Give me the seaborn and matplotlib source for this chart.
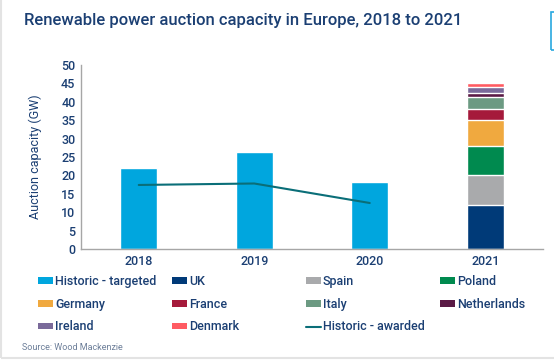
import matplotlib
matplotlib.use("Agg")
import matplotlib.pyplot as plt
from matplotlib.patches import Patch, Rectangle
from matplotlib.lines import Line2D
import seaborn as sns
import pandas as pd
import numpy as np

# data
years = ["2018", "2019", "2020", "2021"]
historic_targeted = [22.0, 26.4, 18.2]
historic_awarded = [17.4, 17.8, 12.5]
countries = ["UK", "Spain", "Poland", "Germany", "France", "Italy",
             "Netherlands", "Ireland", "Denmark"]
capacity_2021 = [12.0, 8.0, 8.0, 7.0, 3.0, 3.2, 1.3, 1.4, 1.3]

navy = "#1b3f73"
target_col = "#00a6de"
line_col = "#0a6e78"
country_cols = ["#003a78", "#a9aaac", "#008a4f", "#f0a93f", "#a51a3b",
                "#6c9a82", "#5a1a45", "#7a6a9a", "#ff5b62"]

sns.set_style("white")
plt.rcParams["font.family"] = ["Roboto", "DejaVu Sans"]

fig = plt.figure(figsize=(5.54, 3.62), dpi=100)
ax = fig.add_axes([81 / 554, 1 - 249 / 362, (543 - 81) / 554, (249 - 65) / 362])

hist = pd.DataFrame({"year": years[:3], "value": historic_targeted})
sns.barplot(data=hist, x="year", y="value", order=years, color=target_col,
            saturation=1, width=0.32, ax=ax)

# stacked 2021 bar: draw cumulative totals from the top down
cum = np.cumsum(capacity_2021)
for total, col in reversed(list(zip(cum, country_cols))):
    sns.barplot(x=["2021"], y=[total], order=years, color=col,
                saturation=1, width=0.32, ax=ax)

sns.lineplot(x=[0, 1, 2], y=historic_awarded, color=line_col, lw=1.5, ax=ax)

ax.set_xlim(-0.5, 3.5)
ax.set_ylim(0, 50)
ax.set_yticks(range(0, 51, 5))
ax.set_xlabel("")
ax.set_ylabel("Auction capacity (GW)", color=navy, fontsize=9, labelpad=14)
ax.tick_params(axis="both", length=0, labelsize=9, labelcolor=navy, pad=4)
for lab in ax.get_xticklabels() + ax.get_yticklabels():
    lab.set_fontweight("medium")
for s in ["top", "right"]:
    ax.spines[s].set_visible(False)
for s in ["left", "bottom"]:
    ax.spines[s].set_color("#a6a6a6")
    ax.spines[s].set_linewidth(1)

# legend, laid out in four columns
def patch(c):
    return Patch(facecolor=c, edgecolor="none")

columns = [
    [(patch(target_col), "Historic - targeted"), (patch(country_cols[3]), "Germany"),
     (patch(country_cols[7]), "Ireland")],
    [(patch(country_cols[0]), "UK"), (patch(country_cols[4]), "France"),
     (patch(country_cols[8]), "Denmark")],
    [(patch(country_cols[1]), "Spain"), (patch(country_cols[5]), "Italy"),
     (Line2D([], [], color=line_col, lw=1.5), "Historic - awarded")],
    [(patch(country_cols[2]), "Poland"), (patch(country_cols[6]), "Netherlands")],
]
col_x = [38, 172, 306, 440]
for x, items in zip(col_x, columns):
    leg = fig.legend([h for h, _ in items], [t for _, t in items],
                     loc="upper left", bbox_to_anchor=(x / 554, 1 - 275 / 362),
                     frameon=False, fontsize=9, handlelength=1.2, handleheight=0.45,
                     handletextpad=0.15, labelspacing=0.78, borderpad=0, borderaxespad=0)
    for t in leg.get_texts():
        t.set_color(navy)
        t.set_fontweight("medium")

fig.text(24 / 554, 1 - 20 / 362, "Renewable power auction capacity in Europe, 2018 to 2021",
         color=navy, fontsize=12, fontweight="medium", va="center", ha="left")
fig.text(22 / 554, 1 - 347 / 362, "Source: Wood Mackenzie", color="#6d7f99",
         fontsize=6.5, va="center", ha="left")

# light frame and the cut-off blue box at top right
fig.patches.append(Rectangle((1 / 554, 4 / 362), 1.2, 1.2, transform=fig.transFigure,
                             fill=False, edgecolor="#e3e3e3", lw=1.5))
fig.patches.append(Rectangle((551 / 554, 1 - 50 / 362), 0.02, 38 / 362,
                             transform=fig.transFigure, fill=False,
                             edgecolor="#29a8df", lw=1.2))

fig.savefig("out.png", dpi=100)
